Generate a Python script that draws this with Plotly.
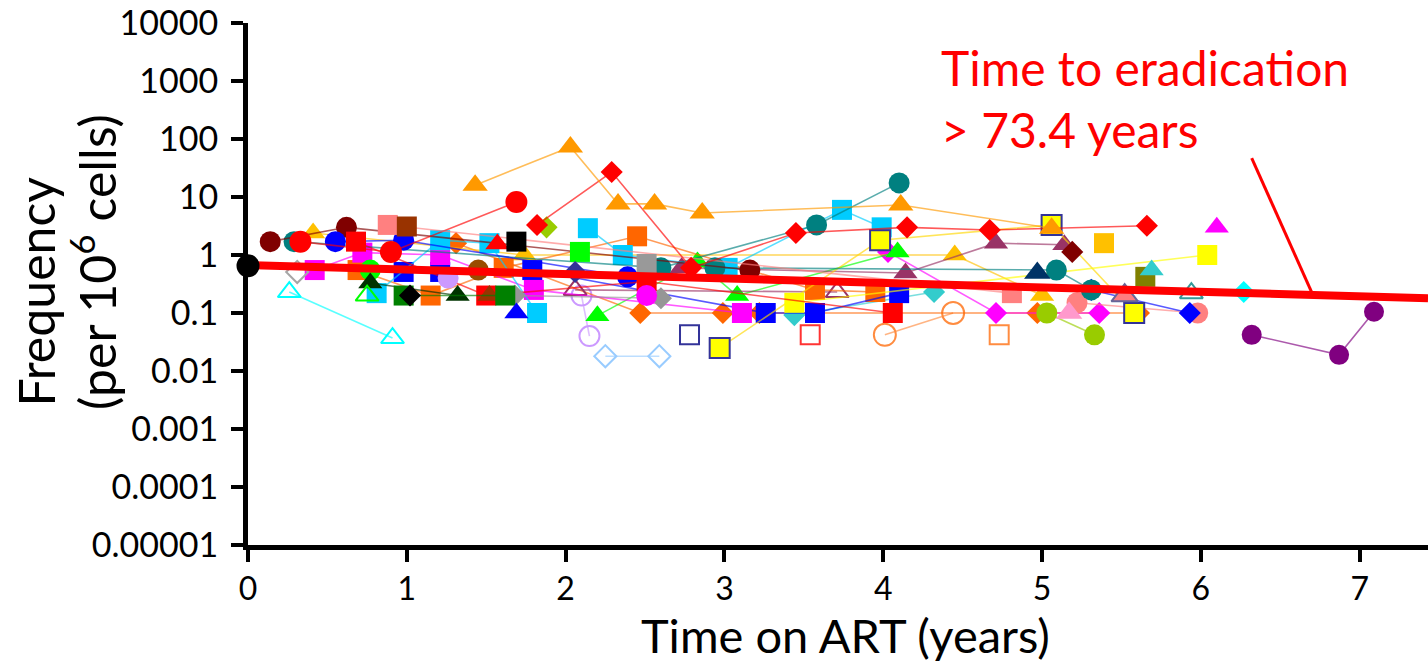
import plotly.graph_objects as go

FONT = "Lato"

# ---------------- data: time on ART (years) / frequency (per 10^6 cells) ----------------
orange_tri_x = [1.43, 2.03, 2.33, 2.56, 2.86, 4.11, 5.06]
orange_tri_y = [16, 73, 7.6, 7.6, 5.3, 7.3, 2.9]
red_dia_x = [1.82, 2.29, 2.79, 3.45, 4.15, 4.67, 5.66]
red_dia_y = [3.3, 27, 0.6, 2.4, 3.0, 2.7, 3.2]
teal_circ_x = [0.29, 2.6, 3.58, 4.10]
teal_circ_y = [1.7, 0.6, 3.3, 17.5]
teal_circ2_x = [2.94, 5.09, 5.31]
teal_circ2_y = [0.6, 0.55, 0.25]
maroon_circ_x = [0.14, 0.62, 3.16]
maroon_circ_y = [1.7, 3.0, 0.55]
red_circ_x = [0.33, 0.9, 1.69]
red_circ_y = [1.7, 1.13, 8.2]
blue_circ_x = [0.55, 0.98, 2.39]
blue_circ_y = [1.7, 1.8, 0.42]
red_sq_x = [0.68, 1.5, 2.51, 4.06]
red_sq_y = [1.7, 0.2, 0.35, 0.1]
gold_tri_x = [0.41, 1.74, 4.45, 5.0]
gold_tri_y = [2.4, 1.0, 1.0, 0.2]
magenta_sq_x = [0.42, 0.72, 1.21, 1.8, 3.11]
magenta_sq_y = [0.55, 1.1, 1.0, 0.25, 0.1]
salmon_sq_x = [0.88, 4.81]
salmon_sq_y = [3.3, 0.22]
brown_sq_x = [1.0]
brown_sq_y = [3.1]
brown_tri_x = [1.52]
brown_tri_y = [0.2]
cyan_open_tri_x = [0.26, 0.91]
cyan_open_tri_y = [0.23, 0.037]
gray_open_dia_x = [0.31]
gray_open_dia_y = [0.51]
gray_dia_x = [1.68, 2.6]
gray_dia_y = [0.2, 0.18]
orange_sq_x = [0.69, 1.15, 1.61, 2.45, 3.57, 3.95]
orange_sq_y = [0.55, 0.2, 0.6, 2.1, 0.25, 0.23]
green_circ_x = [0.77]
green_circ_y = [0.55]
green_tri_x = [2.2, 2.83, 3.08, 4.09]
green_tri_y = [0.09, 0.76, 0.2, 1.13]
dkgreen_tri_x = [0.77, 1.32]
dkgreen_tri_y = [0.33, 0.2]
cyan_sq_a_x = [0.81, 1.21, 1.52, 1.82]
cyan_sq_a_y = [0.22, 1.8, 1.6, 0.1]
cyan_sq_b_x = [2.14, 2.36, 3.02, 3.74, 3.99]
cyan_sq_b_y = [2.9, 1.0, 0.6, 6.0, 3.0]
green_open_tri_x = [0.75]
green_open_tri_y = [0.2]
blue_sq_x = [0.98, 1.21, 1.79, 3.26, 3.57, 4.1]
blue_sq_y = [0.51, 0.51, 0.55, 0.1, 0.1, 0.22]
dkgreen_sq_x = [0.98, 1.62]
dkgreen_sq_y = [0.2, 0.2]
black_dia_x = [1.02]
black_dia_y = [0.2]
orange_dia_x = [1.31, 2.47, 2.99, 3.22, 4.97, 5.61]
orange_dia_y = [1.6, 0.1, 0.1, 0.1, 0.1, 0.1]
lavender_circ_x = [1.26]
lavender_circ_y = [0.4]
lavender_open_circ_x = [2.1, 2.15]
lavender_open_circ_y = [0.2, 0.04]
red_tri_x = [1.57]
red_tri_y = [1.55]
black_sq_x = [1.69]
black_sq_y = [1.7]
blue_tri_x = [1.69]
blue_tri_y = [0.1]
ochre_circ_x = [1.45]
ochre_circ_y = [0.55]
ygreen_dia_x = [1.88]
ygreen_dia_y = [3.0]
green_sq_x = [2.09]
green_sq_y = [1.13]
gray_sq_x = [2.51]
gray_sq_y = [0.7]
magenta_circ_x = [2.51]
magenta_circ_y = [0.2]
navy_dia_x = [2.06]
navy_dia_y = [0.51]
ltblue_open_dia_x = [2.25, 2.59]
ltblue_open_dia_y = [0.018, 0.018]
mauve_open_tri_x = [2.06, 3.71]
mauve_open_tri_y = [0.25, 0.23]
mauve_tri_x = [2.73, 4.14, 4.71, 5.14]
mauve_tri_y = [0.6, 0.49, 1.6, 1.5]
teal_dia_x = [3.44, 4.32]
teal_dia_y = [0.092, 0.23]
navy_open_sq_x = [2.78]
navy_open_sq_y = [0.042]
yellow_sq_edge_x = [2.97, 3.98, 5.06, 5.58]
yellow_sq_edge_y = [0.025, 1.8, 3.3, 0.1]
red_open_sq_x = [3.54]
red_open_sq_y = [0.042]
yellow_sq_x = [3.44, 6.04]
yellow_sq_y = [0.15, 1.0]
magenta_dia_x = [4.03, 4.71, 5.36]
magenta_dia_y = [1.13, 0.1, 0.1]
orange_open_circ_x = [4.01, 4.44]
orange_open_circ_y = [0.042, 0.1]
orange_open_sq_x = [4.73]
orange_open_sq_y = [0.042]
navy_tri_x = [4.97]
navy_tri_y = [0.49]
maroon_dia_x = [5.19]
maroon_dia_y = [1.13]
gold_sq_x = [5.39]
gold_sq_y = [1.6]
ygreen_circ_x = [5.03, 5.33]
ygreen_circ_y = [0.1, 0.042]
pink_tri_x = [5.17]
pink_tri_y = [0.1]
salmon_circ_x = [5.22, 5.98]
salmon_circ_y = [0.15, 0.1]
blue_dia_x = [5.31, 5.93]
blue_dia_y = [0.25, 0.1]
salmon_tri_x = [5.52]
salmon_tri_y = [0.2]
olive_sq_x = [5.65]
olive_sq_y = [0.42]
teal_tri_x = [5.69]
teal_tri_y = [0.55]
magenta_tri_x = [6.1]
magenta_tri_y = [3.0]
teal_open_tri_x = [5.94]
teal_open_tri_y = [0.22]
cyan_dia_x = [6.27]
cyan_dia_y = [0.23]
purple_circ_x = [6.32, 6.87, 7.09]
purple_circ_y = [0.042, 0.019, 0.105]
baseline_x = [0]
baseline_y = [0.65]

trend_x = [0, 7.43]
trend_y = [0.67, 0.18]
pointer_x = [6.32, 6.70]
pointer_y = [47, 0.22]

y_tickvals = [1e-5, 1e-4, 1e-3, 1e-2, 1e-1, 1, 10, 100, 1000, 10000]
y_ticktext = ["0.00001", "0.0001", "0.001", "0.01", "0.1", "1", "10", "100", "1000", "10000"]
x_tickvals = [0, 1, 2, 3, 4, 5, 6, 7]

annotation_text = "Time to eradication<br>> 73.4 years"
x_title = "Time on ART (years)"
y_title_1 = "Frequency"
y_title_2 = "(per 10<sup>6</sup> cells)"

# ---------------- figure ----------------
fig = go.Figure()


def rgba(hexcol, a):
    h = hexcol.lstrip("#")
    r, g, b = int(h[0:2], 16), int(h[2:4], 16), int(h[4:6], 16)
    return f"rgba({r},{g},{b},{a})"


def add(x, y, color, symbol, size=20, opened=False, edge=None, lcolor=None):
    mk = dict(symbol=symbol + ("-open" if opened else ""), size=size, color=color)
    if opened:
        mk["line"] = dict(color=color, width=2)
    elif edge:
        mk["line"] = dict(color=edge, width=2)
    else:
        mk["line"] = dict(width=0)
    fig.add_trace(go.Scatter(
        x=x, y=y, mode="lines+markers" if len(x) > 1 else "markers",
        marker=mk, line=dict(color=rgba(lcolor or color, 0.65), width=1.6),
        cliponaxis=False, hoverinfo="skip"))


add(cyan_open_tri_x, cyan_open_tri_y, "#00FFFF", "triangle-up", 20, opened=True)
add(ltblue_open_dia_x, ltblue_open_dia_y, "#99CCFF", "diamond", 17, opened=True)
add(lavender_open_circ_x, lavender_open_circ_y, "#CC99FF", "circle", 20, opened=True)
add(navy_open_sq_x, navy_open_sq_y, "#333399", "square", 19, opened=True)
add(red_open_sq_x, red_open_sq_y, "#FF3333", "square", 19, opened=True)
add(orange_open_circ_x, orange_open_circ_y, "#FF8C40", "circle", 22, opened=True)
add(orange_open_sq_x, orange_open_sq_y, "#FF8C40", "square", 19, opened=True)
add(purple_circ_x, purple_circ_y, "#800080", "circle", 20)
add(orange_dia_x, orange_dia_y, "#FF6600", "diamond", 17)
add(magenta_dia_x, magenta_dia_y, "#FF00FF", "diamond", 17)
add(ygreen_circ_x, ygreen_circ_y, "#99CC00", "circle", 21)
add(salmon_circ_x, salmon_circ_y, "#FF8080", "circle", 21)
add(blue_dia_x, blue_dia_y, "#0000FF", "diamond", 17)
add(teal_dia_x, teal_dia_y, "#33CCCC", "diamond", 17)
add(gold_tri_x, gold_tri_y, "#FFC000", "triangle-up", 21)
add(green_tri_x, green_tri_y, "#00FF00", "triangle-up", 21)
add(mauve_open_tri_x, mauve_open_tri_y, "#993366", "triangle-up", 20, opened=True)
add(mauve_tri_x, mauve_tri_y, "#993366", "triangle-up", 21)
add(orange_sq_x, orange_sq_y, "#FF6600", "square", 20)
add(blue_sq_x, blue_sq_y, "#0000FF", "square", 20)
add(magenta_sq_x, magenta_sq_y, "#FF00FF", "square", 20)
add(cyan_sq_a_x, cyan_sq_a_y, "#00CCFF", "square", 20)
add(cyan_sq_b_x, cyan_sq_b_y, "#00CCFF", "square", 20)
add(yellow_sq_edge_x, yellow_sq_edge_y, "#FFFF00", "square", 20, edge="#333399", lcolor="#FFD700")
add(yellow_sq_x, yellow_sq_y, "#FFFF00", "square", 20)
add(teal_circ_x, teal_circ_y, "#008080", "circle", 21)
add(teal_circ2_x, teal_circ2_y, "#008080", "circle", 21)
add(maroon_circ_x, maroon_circ_y, "#800000", "circle", 21)
add(blue_circ_x, blue_circ_y, "#0000FF", "circle", 21)
add(red_circ_x, red_circ_y, "#FF0000", "circle", 22)
add(red_sq_x, red_sq_y, "#FF0000", "square", 20)
add(salmon_sq_x, salmon_sq_y, "#FF8080", "square", 20)
add(brown_sq_x, brown_sq_y, "#993300", "square", 20)
add(brown_tri_x, brown_tri_y, "#993300", "triangle-up", 21)
add(gray_open_dia_x, gray_open_dia_y, "#A6A6A6", "diamond", 17, opened=True)
add(gray_dia_x, gray_dia_y, "#969696", "diamond", 17)
add(green_circ_x, green_circ_y, "#00FF00", "circle", 21)
add(dkgreen_tri_x, dkgreen_tri_y, "#003300", "triangle-up", 21)
add(green_open_tri_x, green_open_tri_y, "#00FF00", "triangle-up", 20, opened=True)
add(dkgreen_sq_x, dkgreen_sq_y, "#008000", "square", 20)
add(black_dia_x, black_dia_y, "#000000", "diamond", 17)
add(lavender_circ_x, lavender_circ_y, "#CC99FF", "circle", 21)
add(red_tri_x, red_tri_y, "#FF0000", "triangle-up", 21)
add(black_sq_x, black_sq_y, "#000000", "square", 20)
add(blue_tri_x, blue_tri_y, "#0000FF", "triangle-up", 21)
add(ochre_circ_x, ochre_circ_y, "#994C00", "circle", 21)
add(ygreen_dia_x, ygreen_dia_y, "#99CC00", "diamond", 17)
add(green_sq_x, green_sq_y, "#00FF00", "square", 20)
add(gray_sq_x, gray_sq_y, "#999999", "square", 20)
add(magenta_circ_x, magenta_circ_y, "#FF00FF", "circle", 21)
add(navy_dia_x, navy_dia_y, "#333399", "diamond", 17)
add(navy_tri_x, navy_tri_y, "#003366", "triangle-up", 23)
add(maroon_dia_x, maroon_dia_y, "#800000", "diamond", 17)
add(gold_sq_x, gold_sq_y, "#FFC000", "square", 20)
add(pink_tri_x, pink_tri_y, "#FF99CC", "triangle-up", 23)
add(salmon_tri_x, salmon_tri_y, "#FF7C80", "triangle-up", 23, edge="#666699")
add(olive_sq_x, olive_sq_y, "#808000", "square", 20)
add(teal_tri_x, teal_tri_y, "#33CCCC", "triangle-up", 21)
add(magenta_tri_x, magenta_tri_y, "#FF00FF", "triangle-up", 21)
add(teal_open_tri_x, teal_open_tri_y, "#339999", "triangle-up", 20, opened=True)
add(cyan_dia_x, cyan_dia_y, "#00FFFF", "diamond", 17)
add(red_dia_x, red_dia_y, "#FF0000", "diamond", 17)
add(orange_tri_x, orange_tri_y, "#FF9900", "triangle-up", 22)

# trend line and pointer
fig.add_trace(go.Scatter(x=trend_x, y=trend_y, mode="lines",
                         line=dict(color="#FF0000", width=8), cliponaxis=False, hoverinfo="skip"))
fig.add_trace(go.Scatter(x=pointer_x, y=pointer_y, mode="lines",
                         line=dict(color="#FF0000", width=3), cliponaxis=False, hoverinfo="skip"))
fig.add_trace(go.Scatter(x=baseline_x, y=baseline_y, mode="markers",
                         marker=dict(symbol="circle", size=23, color="#000000"),
                         cliponaxis=False, hoverinfo="skip"))

axis_common = dict(showline=True, linecolor="black", linewidth=5, ticks="outside",
                   ticklen=12, tickwidth=4, tickcolor="black", showgrid=False, zeroline=False)

fig.update_layout(
    width=1428, height=667,
    margin=dict(l=248, r=0, t=23, b=122),
    plot_bgcolor="white", paper_bgcolor="white",
    showlegend=False,
    font=dict(family=FONT, color="black"),
    xaxis=dict(range=[0, 7.43], tickvals=x_tickvals,
               tickfont=dict(family=FONT, size=32, color="black"), **axis_common),
    yaxis=dict(type="log", range=[-5, 4], tickvals=y_tickvals, ticktext=y_ticktext,
               tickfont=dict(family=FONT, size=34, color="black"),
               ticklabelstandoff=6, **axis_common),
)

fig.add_annotation(text=annotation_text, xref="paper", yref="paper", x=0.586, y=0.973,
                   xanchor="left", yanchor="top", align="left", showarrow=False,
                   font=dict(family=FONT, size=48, color="#FF0000"))
fig.add_annotation(text=x_title, xref="paper", yref="paper", x=0.506, y=-0.172,
                   xanchor="center", yanchor="middle", showarrow=False,
                   font=dict(family=FONT, size=47, color="black"))
fig.add_annotation(text=y_title_1, xref="paper", yref="paper", x=-0.180, y=0.485,
                   xanchor="center", yanchor="middle", textangle=-90, showarrow=False,
                   font=dict(family=FONT, size=50, color="black"))
fig.add_annotation(text=y_title_2, xref="paper", yref="paper", x=-0.131, y=0.543,
                   xanchor="center", yanchor="middle", textangle=-90, showarrow=False,
                   font=dict(family=FONT, size=50, color="black"))

fig.write_html("out.html")
